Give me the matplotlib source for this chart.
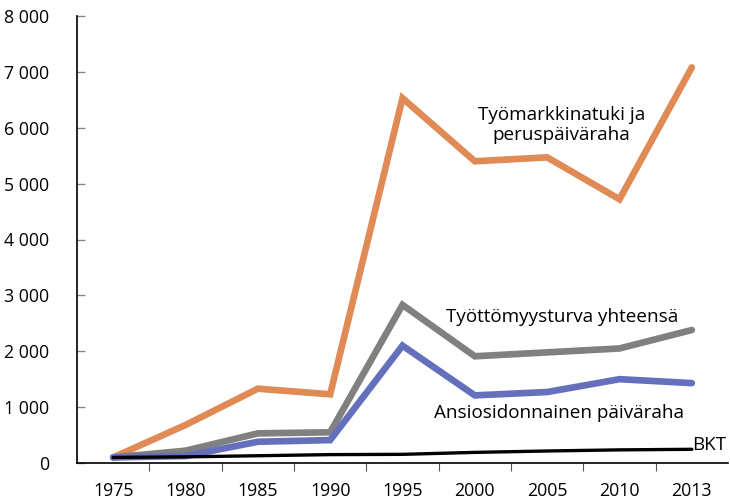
import matplotlib
matplotlib.use("Agg")
import matplotlib.pyplot as plt
from matplotlib.ticker import FuncFormatter, FixedLocator

years = ["1975", "1980", "1985", "1990", "1995", "2000", "2005", "2010", "2013"]
tyomarkkinatuki = [100, 680, 1330, 1230, 6530, 5400, 5470, 4720, 7080]
yhteensa = [100, 220, 530, 550, 2830, 1910, 1980, 2050, 2380]
ansiosidonnainen = [100, 125, 380, 410, 2100, 1210, 1270, 1500, 1430]
bkt = [100, 110, 130, 150, 155, 190, 215, 235, 245]

plt.rcParams['font.family'] = ['Open Sans', 'DejaVu Sans']

fig = plt.figure(figsize=(7.30, 4.99), dpi=100)
ax = fig.add_axes([77/730, 1-463/499, 651/730, (463-16)/499])

x = list(range(len(years)))
kw = dict(solid_capstyle='round', solid_joinstyle='miter')
ax.plot(x, tyomarkkinatuki, color='#E08A55', lw=4.8, **kw)
ax.plot(x, yhteensa, color='#808080', lw=4.8, **kw)
ax.plot(x, ansiosidonnainen, color='#6570BD', lw=4.8, **kw)
ax.plot(x, bkt, color='black', lw=2.4, **kw)

ax.set_xlim(-0.5, len(years) - 0.5)
ax.set_ylim(0, 8000)
ax.set_yticks(range(0, 8001, 1000))
ax.yaxis.set_major_formatter(FuncFormatter(lambda v, p: f"{int(v):,}".replace(",", " ")))
ax.set_xticks(x)
ax.set_xticklabels(years)
ax.xaxis.set_minor_locator(FixedLocator([i + 0.5 for i in range(len(years) - 1)]))
ax.tick_params(axis='x', which='major', length=0, pad=14, labelsize=12.8, colors='black')
ax.tick_params(axis='x', which='minor', length=6, direction='out', color='#555555', width=0.8)
ax.tick_params(axis='y', which='major', length=6, direction='in', color='#888888', width=1, pad=20, labelsize=12.8)

for s in ['top', 'right']:
    ax.spines[s].set_visible(False)
for s in ['left', 'bottom']:
    ax.spines[s].set_color('black')
    ax.spines[s].set_linewidth(1.2)

fs = 13.6
ax.text(6.2, 6050, "Työmarkkinatuki ja\nperuspäiväraha", ha='center', va='center', fontsize=fs, linespacing=1.2)
ax.text(6.2, 2610, "Työttömyysturva yhteensä", ha='center', va='center', fontsize=fs)
ax.text(6.17, 890, "Ansiosidonnainen päiväraha", ha='center', va='center', fontsize=fs)
ax.text(8.01, 320, "BKT", ha='left', va='center', fontsize=fs)

fig.savefig("out.png", dpi=100)
